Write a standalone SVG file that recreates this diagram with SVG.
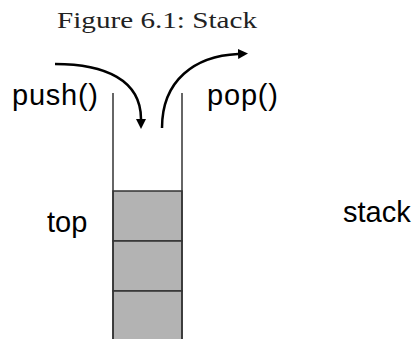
<svg xmlns="http://www.w3.org/2000/svg" width="416" height="339" viewBox="0 0 416 339">
<style>
.lbl{font-family:"Liberation Sans",Arial,sans-serif;font-size:29px;fill:#000}
.title{font-family:"Liberation Serif","Times New Roman",serif;font-size:23px;fill:#222}
.wall{stroke:#333;stroke-width:1.5;fill:none}
.cell{fill:#b3b3b3;stroke:#333;stroke-width:1.5}
.arrow{stroke:#000;stroke-width:2.5;fill:none}
</style>
<defs>
<marker id="ah" markerWidth="10" markerHeight="10" refX="0" refY="5" orient="auto" markerUnits="userSpaceOnUse" viewBox="0 0 10 10">
<path d="M0,0 L10,5 L0,10 Z" fill="#000"/>
</marker>
</defs>
<rect width="416" height="339" fill="#fff"/>
<text class="title" x="57" y="28" textLength="200" lengthAdjust="spacingAndGlyphs">Figure 6.1: Stack</text>
<g id="stack">
<rect class="cell" x="113" y="191" width="69" height="50"/>
<rect class="cell" x="113" y="241" width="69" height="50"/>
<rect class="cell" x="113" y="291" width="69" height="60"/>
<line class="wall" x1="113" y1="93" x2="113" y2="339"/>
<line class="wall" x1="182" y1="93" x2="182" y2="339"/>
</g>
<g id="labels">
<text class="lbl" x="12" y="105" textLength="86">push()</text>
<text class="lbl" x="207" y="105" textLength="71">pop()</text>
<text class="lbl" x="47" y="232">top</text>
<text class="lbl" x="343" y="222">stack</text>
</g>
<g id="connectors">
<path class="arrow" d="M55,64 C105,64 141,80 141,119" marker-end="url(#ah)"/>
<path class="arrow" d="M162,128 C162,80 195,56 238,54" marker-end="url(#ah)"/>
</g>
</svg>
